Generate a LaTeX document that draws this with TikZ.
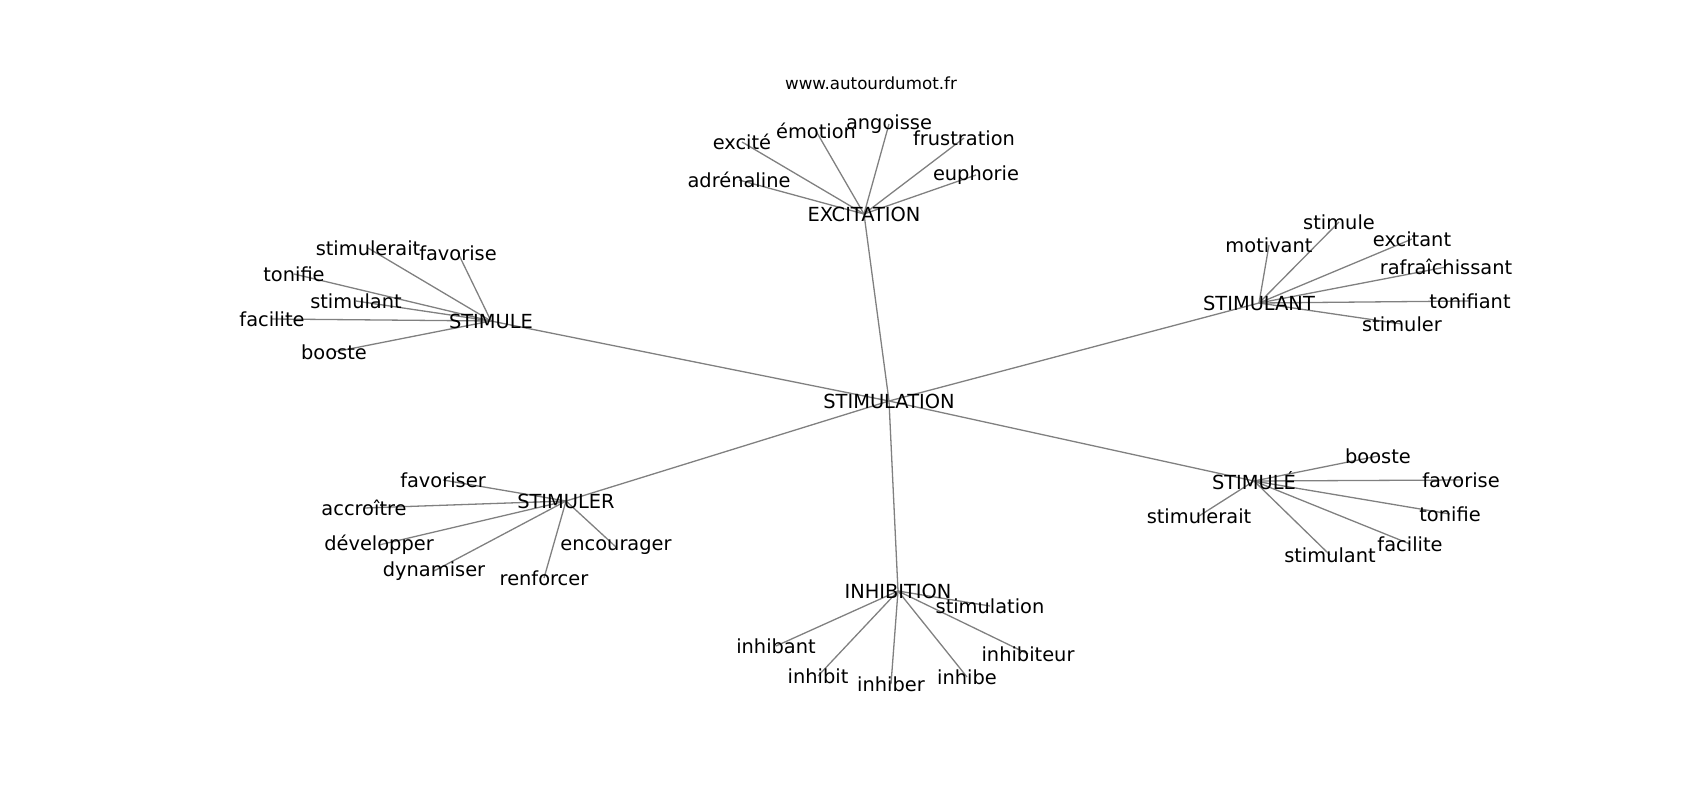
\documentclass[tikz,border=0pt]{standalone}
\usepackage{fontspec}
\setmainfont{DejaVu Sans}
\usetikzlibrary{backgrounds}
\tikzset{
  lbl/.style={inner sep=0pt, anchor=center, text=black, font=\fontsize{19.4}{23}\selectfont},
  ttl/.style={inner sep=0pt, anchor=center, text=black, font=\fontsize{16.7}{20}\selectfont},
  edge/.style={draw=gray, line width=1.3pt}
}
\begin{document}
\begin{tikzpicture}[x=1pt,y=-1pt]
\useasboundingbox (0,0) rectangle (1700,800);
\node[ttl] (url) at (871,83) {www.autourdumot.fr};
% central
\node[lbl] (c) at (889,401) {STIMULATION};
% hubs
\node[lbl] (exc) at (864,214) {EXCITATION};
\node[lbl] (sle) at (491,321) {STIMULE};
\node[lbl] (snt) at (1259,303) {STIMULANT};
\node[lbl] (ser) at (566,501) {STIMULER};
\node[lbl] (sea) at (1254,481) {STIMULÉ};
\node[lbl] (inh) at (898,591) {INHIBITION};
% EXCITATION leaves
\node[lbl] (e1) at (742,142) {excité};
\node[lbl] (e2) at (816,131) {émotion};
\node[lbl] (e3) at (889,124) {angoisse};
\node[lbl] (e4) at (964,138) {frustration};
\node[lbl] (e5) at (976,175) {euphorie};
\node[lbl] (e6) at (739,180) {adrénaline};
% STIMULE leaves
\node[lbl] (a1) at (368,248) {stimulerait};
\node[lbl] (a2) at (458,253) {favorise};
\node[lbl] (a3) at (294,274) {tonifie};
\node[lbl] (a4) at (356,301) {stimulant};
\node[lbl] (a5) at (272,319) {facilite};
\node[lbl] (a6) at (334,352) {booste};
% STIMULANT leaves
\node[lbl] (b1) at (1269,245) {motivant};
\node[lbl] (b2) at (1339,222) {stimule};
\node[lbl] (b3) at (1412,239) {excitant};
\node[lbl] (b4) at (1446,267) {rafraîchissant};
\node[lbl] (b5) at (1470,301) {tonifiant};
\node[lbl] (b6) at (1402,324) {stimuler};
% STIMULER leaves
\node[lbl] (d1) at (443,480) {favoriser};
\node[lbl] (d2) at (364,508) {accroître};
\node[lbl] (d3) at (379,545) {développer};
\node[lbl] (d4) at (434,571) {dynamiser};
\node[lbl] (d5) at (544,578) {renforcer};
\node[lbl] (d6) at (616,547) {encourager};
% STIMULÉ leaves
\node[lbl] (f1) at (1378,456) {booste};
\node[lbl] (f2) at (1461,480) {favorise};
\node[lbl] (f3) at (1450,514) {tonifie};
\node[lbl] (f4) at (1410,544) {facilite};
\node[lbl] (f5) at (1330,555) {stimulant};
\node[lbl] (f6) at (1199,516) {stimulerait};
% INHIBITION leaves
\node[lbl] (g1) at (990,606) {stimulation};
\node[lbl] (g2) at (776,646) {inhibant};
\node[lbl] (g3) at (818,676) {inhibit};
\node[lbl] (g4) at (891,684) {inhiber};
\node[lbl] (g5) at (967,677) {inhibe};
\node[lbl] (g6) at (1028,654) {inhibiteur};
\begin{pgfonlayer}{background}
\foreach \h in {exc,sle,snt,ser,sea,inh} \draw[edge] (c.center) -- (\h.center);
\foreach \l in {e1,e2,e3,e4,e5,e6} \draw[edge] (exc.center) -- (\l.center);
\foreach \l in {a1,a2,a3,a4,a5,a6} \draw[edge] (sle.center) -- (\l.center);
\foreach \l in {b1,b2,b3,b4,b5,b6} \draw[edge] (snt.center) -- (\l.center);
\foreach \l in {d1,d2,d3,d4,d5,d6} \draw[edge] (ser.center) -- (\l.center);
\foreach \l in {f1,f2,f3,f4,f5,f6} \draw[edge] (sea.center) -- (\l.center);
\foreach \l in {g1,g2,g3,g4,g5,g6} \draw[edge] (inh.center) -- (\l.center);
\end{pgfonlayer}
\end{tikzpicture}
\end{document}
